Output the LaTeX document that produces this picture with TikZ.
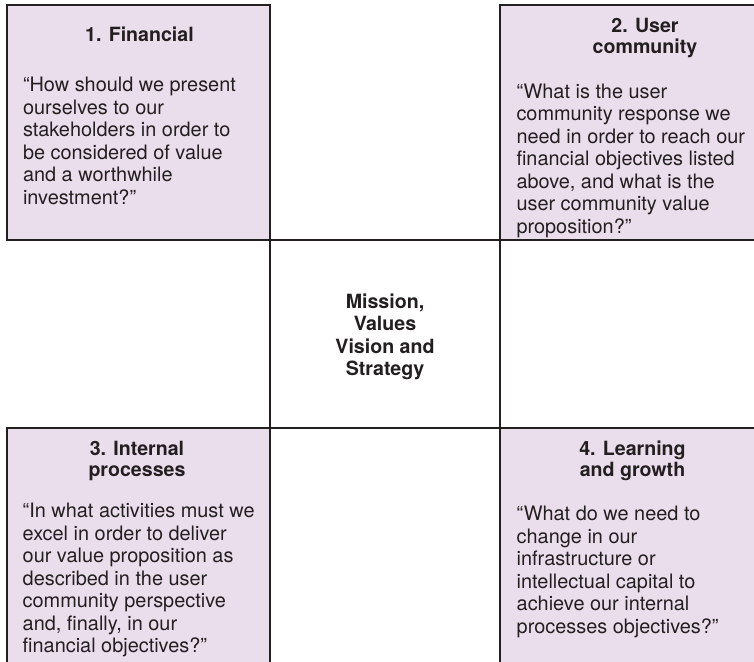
\documentclass[tikz,border=0pt]{standalone}
\usepackage{fontspec}
\setmainfont{TeX Gyre Heros}
\definecolor{lilac}{RGB}{235,222,236}
\definecolor{ink}{RGB}{35,31,32}
\begin{document}
\begin{tikzpicture}[x=1pt,y=-1pt,inner sep=0pt,outer sep=0pt,line width=1.8pt,
quad/.style={draw=ink,fill=lilac,rectangle},
core/.style={draw=ink,fill=white,rectangle,minimum width=230pt,minimum height=188pt},
head/.style={anchor=base,align=center,text=ink,font=\fontsize{19.6}{21}\selectfont\bfseries},
body/.style={anchor=base west,align=left,text=ink,font=\fontsize{19.9}{22.5}\selectfont}]

\useasboundingbox (0,0) rectangle (754,661);
\clip (0,0) rectangle (754,661);

\draw (138.5,122.5) node[quad,minimum width=263pt,minimum height=235pt] (fin) {};
\draw (645,122.5) node[quad,minimum width=290pt,minimum height=235pt] (usr) {};
\draw (138.5,554) node[quad,minimum width=263pt,minimum height=252pt] (int) {};
\draw (632.5,554) node[quad,minimum width=265pt,minimum height=252pt] (lrn) {};
\draw (385,334) node[core] (msn) {};

\draw (139.5,41.7) node[head] (finhead) {1. Financial};
\draw (23,204.2) node[body] (fintext) {“How should we present\\ourselves to our\\stakeholders in order to\\be considered of value\\and a worthwhile\\investment?”};

\draw (645,53.5) node[head] (usrhead) {2. User\\community};
\draw (516.5,233) node[body] (usrtext) {“What is the user\\community response we\\need in order to reach our\\financial objectives listed\\above, and what is the\\user community value\\proposition?”};

\draw (385,375.5) node[head,font=\fontsize{19.6}{22.5}\selectfont\bfseries] (msntext) {Mission,\\Values\\Vision and\\Strategy};

\draw (137,476.7) node[head] (inthead) {3. Internal\\processes};
\draw (22.7,652.7) node[body] (inttext) {“In what activities must we\\excel in order to deliver\\our value proposition as\\described in the user\\community perspective\\and, finally, in our\\financial objectives?”};

\draw (632.5,476.7) node[head] (lrnhead) {4. Learning\\and growth};
\draw (516.7,633.2) node[body] (lrntext) {“What do we need to\\change in our\\infrastructure or\\intellectual capital to\\achieve our internal\\processes objectives?”};
\end{tikzpicture}
\end{document}
